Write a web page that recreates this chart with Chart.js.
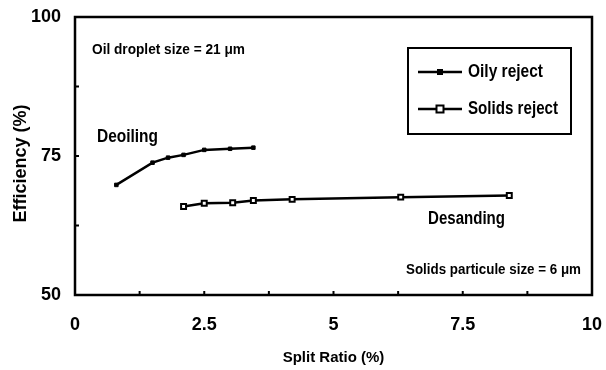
<!DOCTYPE html>
<html>
<head>
<meta charset="utf-8">
<script src="https://cdn.jsdelivr.net/npm/chart.js@4.4.1/dist/chart.umd.min.js"></script>
<style>
    html, body { margin: 0; padding: 0; background: #fff; }
    #wrap { width: 606px; height: 370px; }
</style>
</head>
<body>
<div id="wrap"><canvas id="chart" width="606" height="370"></canvas></div>
<script>
// Hydrocyclone efficiency vs split ratio
const oilyX = [0.8, 1.5, 1.8, 2.1, 2.5, 3.0, 3.45];
const oilyY = [69.8, 73.8, 74.7, 75.2, 76.1, 76.3, 76.5];
const solidsX = [2.1, 2.5, 3.05, 3.45, 4.2, 6.3, 8.4];
const solidsY = [65.9, 66.5, 66.6, 67.0, 67.2, 67.6, 67.9];

const xTicks = [0, 2.5, 5, 7.5, 10];
const yTicks = [50, 75, 100];
const xMinor = [1.25, 2.5, 3.75, 5, 6.25, 7.5, 8.75];
const yMinor = [62.5, 75, 87.5];

const seriesNames = ['Oily reject', 'Solids reject'];

const FAMILY = '"Liberation Sans", Arial, sans-serif';

function toPoints(xs, ys) {
    return xs.map((x, i) => ({ x: x, y: ys[i] }));
}

// bold text squeezed sideways to a set width (the labels use a narrow face)
function narrowText(ctx, text, x, y, size, width) {
    ctx.font = 'bold ' + size + 'px ' + FAMILY;
    const w = ctx.measureText(text).width;
    ctx.save();
    ctx.translate(x, y);
    ctx.scale(width / w, 1);
    ctx.fillText(text, 0, 0);
    ctx.restore();
}

// box round the plot, inward ticks, notes and the legend
const frame = {
    id: 'frame',
    afterDraw(chart) {
        const ctx = chart.ctx;
        const a = chart.chartArea;
        const sx = chart.scales.x;
        const sy = chart.scales.y;
        const ox = a.left - 75, oy = a.top - 17;
        ctx.save();
        ctx.strokeStyle = '#000';
        ctx.lineWidth = 2.5;
        ctx.strokeRect(a.left, a.top, a.right - a.left, a.bottom - a.top);

        ctx.lineWidth = 2;
        ctx.beginPath();
        xMinor.forEach(v => {
            const px = sx.getPixelForValue(v);
            ctx.moveTo(px, a.bottom);
            ctx.lineTo(px, a.bottom - 4);
        });
        yMinor.forEach(v => {
            const py = sy.getPixelForValue(v);
            ctx.moveTo(a.left, py);
            ctx.lineTo(a.left + 4, py);
        });
        ctx.stroke();

        ctx.fillStyle = '#000';
        ctx.textBaseline = 'middle';
        ctx.textAlign = 'left';
        narrowText(ctx, 'Oil droplet size = 21 \u03bcm', ox + 92, oy + 50, 15, 153);
        narrowText(ctx, 'Solids particule size = 6 \u03bcm', ox + 406, oy + 270, 15, 175);
        narrowText(ctx, 'Deoiling', ox + 97, oy + 137, 18, 61);
        narrowText(ctx, 'Desanding', ox + 428, oy + 219, 18, 77);

        // legend
        const lx = ox + 408, ly = oy + 48, lw = 163, lh = 86;
        ctx.lineWidth = 2;
        ctx.strokeRect(lx, ly, lw, lh);
        const labelW = [75, 90];
        [0, 1].forEach(i => {
            const ds = chart.data.datasets[i];
            const y = ly + 24 + i * 37;
            ctx.lineWidth = ds.borderWidth;
            ctx.strokeStyle = ds.borderColor;
            ctx.beginPath();
            ctx.moveTo(lx + 10, y);
            ctx.lineTo(lx + 54, y);
            ctx.stroke();
            const r = ds.pointRadius;
            ctx.fillStyle = ds.pointBackgroundColor;
            ctx.fillRect(lx + 32 - r, y - r, 2 * r, 2 * r);
            ctx.lineWidth = ds.pointBorderWidth;
            ctx.strokeRect(lx + 32 - r, y - r, 2 * r, 2 * r);
            ctx.fillStyle = '#000';
            narrowText(ctx, seriesNames[i], lx + 60, y, 18, labelW[i]);
        });
        ctx.restore();
    }
};

const tickFont = { family: FAMILY, weight: 'bold', size: 18 };

new Chart(document.getElementById('chart'), {
    type: 'scatter',
    data: {
        datasets: [
            {
                label: seriesNames[0],
                data: toPoints(oilyX, oilyY),
                showLine: true,
                borderColor: '#000',
                borderWidth: 2.5,
                pointStyle: 'rect',
                pointRadius: 2.5,
                pointBackgroundColor: '#000',
                pointBorderColor: '#000',
                pointBorderWidth: 1
            },
            {
                label: seriesNames[1],
                data: toPoints(solidsX, solidsY),
                showLine: true,
                borderColor: '#000',
                borderWidth: 2.5,
                pointStyle: 'rect',
                pointRadius: 3.5,
                pointBackgroundColor: '#fff',
                pointBorderColor: '#000',
                pointBorderWidth: 2
            }
        ]
    },
    options: {
        responsive: false,
        animation: false,
        layout: { padding: 0 },
        plugins: {
            legend: { display: false },
            tooltip: { enabled: false }
        },
        scales: {
            x: {
                type: 'linear',
                min: 0,
                max: 10,
                afterBuildTicks: s => { s.ticks = xTicks.map(v => ({ value: v })); },
                afterFit: s => {
                    s.height = 75;
                    s.paddingLeft = 0;
                    s.paddingRight = 14;
                },
                grid: { display: false, drawTicks: false },
                border: { display: false },
                ticks: {
                    color: '#000',
                    font: tickFont,
                    padding: 19,
                    maxRotation: 0,
                    callback: v => String(v)
                },
                title: {
                    display: true,
                    text: 'Split Ratio (%)',
                    color: '#000',
                    font: { family: FAMILY, weight: 'bold', size: 15 },
                    padding: { top: 0, bottom: 3 }
                }
            },
            y: {
                type: 'linear',
                min: 50,
                max: 100,
                afterBuildTicks: s => { s.ticks = yTicks.map(v => ({ value: v })); },
                afterFit: s => {
                    s.width = 75;
                    s.paddingTop = 17;
                    s.paddingBottom = 0;
                },
                grid: { display: false, drawTicks: false },
                border: { display: false },
                ticks: {
                    color: '#000',
                    font: tickFont,
                    padding: 14,
                    callback: v => String(v)
                },
                title: {
                    display: true,
                    // trailing spaces push the title a little below the middle
                    text: 'Efficiency (%)   ',
                    color: '#000',
                    font: { family: FAMILY, weight: 'bold', size: 18 },
                    padding: { top: 10, bottom: 0 }
                }
            }
        }
    },
    plugins: [frame]
});
</script>
</body>
</html>
